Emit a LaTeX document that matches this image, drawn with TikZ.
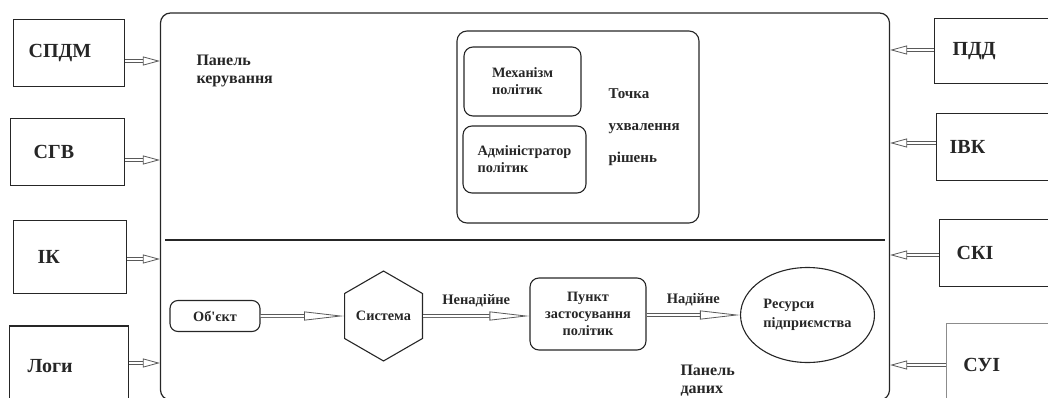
\documentclass[tikz,border=0pt]{standalone}
\usepackage{fontspec}
\setmainfont{Liberation Serif}
\usetikzlibrary{positioning,calc,shapes.geometric,arrows.meta}

\tikzset{
  srcbox/.style={draw=black!85, line width=1.3pt, anchor=west, align=left, font=\fontsize{20}{23}\selectfont\bfseries},
  panel/.style={draw=black!85, line width=1.2pt, rounded corners=10pt},
  unit/.style={draw=black!85, line width=1.1pt, rounded corners=9pt, font=\fontsize{14.3}{17}\selectfont\bfseries},
  caption/.style={align=left, font=\fontsize{16}{18}\selectfont\bfseries},
  flowlabel/.style={font=\fontsize{14.5}{16}\selectfont\bfseries},
  hollow/.style={draw=black!65, line width=0.8pt, double=white, double distance=2pt, -{Triangle[open,length=17pt,width=9pt]}},
  hollowlong/.style={hollow, -{Triangle[open,length=40pt,width=9pt]}},
}

\begin{document}
\begin{tikzpicture}[x=1pt,y=1pt,yscale=-1,xscale=1,text=black!85]
        \useasboundingbox (0,0) rectangle (1048,398);
        % main frame and divider
        \node[panel, minimum width=729pt, minimum height=387pt] (frame) at (525,206.5) {};
        \draw[line width=1.2pt, draw=black!85] (165,240) -- (885,240);
        % control panel
        \node[caption, anchor=west] (ctrl) at (193,71) {Панель\\керування};
        \node[panel, line width=1.1pt, minimum width=242pt, minimum height=192pt] (pdp) at (578,127) {};
        \node[unit, minimum width=117pt, minimum height=69pt, align=left] (mech) at (522.5,81.5) {Механізм\\політик};
        \node[unit, minimum width=123pt, minimum height=67pt, align=left] (admin) at (524.5,159.5) {Адміністратор\\політик};
        \node[caption, anchor=west, font=\fontsize{15}{32}\selectfont\bfseries] (pdplabel) at (605,127) {Точка\\ухвалення\\рішень};
        % data panel
        \node[unit, minimum width=90pt, minimum height=31pt, rounded corners=8pt] (obj) at (215,316) {Об\textquotesingle єкт};
        \node[unit, regular polygon, regular polygon sides=6, shape border rotate=30, minimum size=88pt, sharp corners, inner sep=0pt] (sys) at (383.5,316) {Система};
        \node[unit, minimum width=116pt, minimum height=72pt, align=center] (pep) at (588,314) {Пункт\\застосування\\політик};
        \node[unit, ellipse, minimum width=129pt, minimum height=95pt, align=left, sharp corners, font=\fontsize{14.3}{19}\selectfont\bfseries] (res) at (807.5,315) {Ресурси\\підприємства};
        \node[caption, anchor=west] (datalabel) at (677,380.5) {Панель\\даних};
        \draw[hollowlong] (obj) -- (sys);
        \draw[hollowlong] (sys) -- node[flowlabel, above=5pt] {Ненадійне} (pep.west |- sys);
        \draw[hollowlong] (pep.east |- res) -- node[flowlabel, above=5pt] {Надійне} (res);
        % sources on the left
        \node[srcbox, text width=81pt, inner xsep=15pt, minimum height=67pt] (spdm) at (13,53) {СПДМ};
        \node[srcbox, text width=68pt, inner xsep=23pt, minimum height=67pt] (sgv) at (10,152) {СГВ};
        \node[srcbox, text width=65pt, inner xsep=24pt, minimum height=73pt] (ik) at (13,257) {ІК};
        \node[srcbox, text width=83pt, inner xsep=18pt, minimum height=80pt] (logs) at (9,366) {Логи};
        \coordinate (spdm-out) at ($(spdm.east)+(0,8)$);
        \coordinate (sgv-out) at ($(sgv.east)+(0,8)$);
        \coordinate (ik-out) at ($(ik.east)+(0,2)$);
        \coordinate (logs-out) at ($(logs.east)+(0,-3)$);
        \draw[hollow] (spdm-out) -- (spdm-out -| frame.west);
        \draw[hollow] (sgv-out) -- (sgv-out -| frame.west);
        \draw[hollow] (ik-out) -- (ik-out -| frame.west);
        \draw[hollow] (logs-out) -- (logs-out -| frame.west);
        % sources on the right
        \node[srcbox, text width=90pt, inner xsep=18pt, minimum height=65pt] (pdd) at (934,51) {ПДД};
        \node[srcbox, text width=98pt, inner xsep=13pt, minimum height=67pt] (ivk) at (936,147) {ІВК};
        \node[srcbox, text width=87pt, inner xsep=17pt, minimum height=67pt] (ski) at (939,253) {СКІ};
        \node[srcbox, draw=black!45, line width=0.9pt, text width=80pt, inner xsep=17pt, minimum height=83pt] (sui) at (946,365) {СУІ};
        \coordinate (pdd-in) at ($(pdd.west)+(0,-1)$);
        \coordinate (ivk-in) at ($(ivk.west)+(0,-4)$);
        \coordinate (ski-in) at ($(ski.west)+(0,2)$);
        \coordinate (sui-in) at (sui.west);
        \draw[hollow] (pdd-in) -- (pdd-in -| frame.east);
        \draw[hollow] (ivk-in) -- (ivk-in -| frame.east);
        \draw[hollow] (ski-in) -- (ski-in -| frame.east);
        \draw[hollow] (sui-in) -- (sui-in -| frame.east);
\end{tikzpicture}
\end{document}
